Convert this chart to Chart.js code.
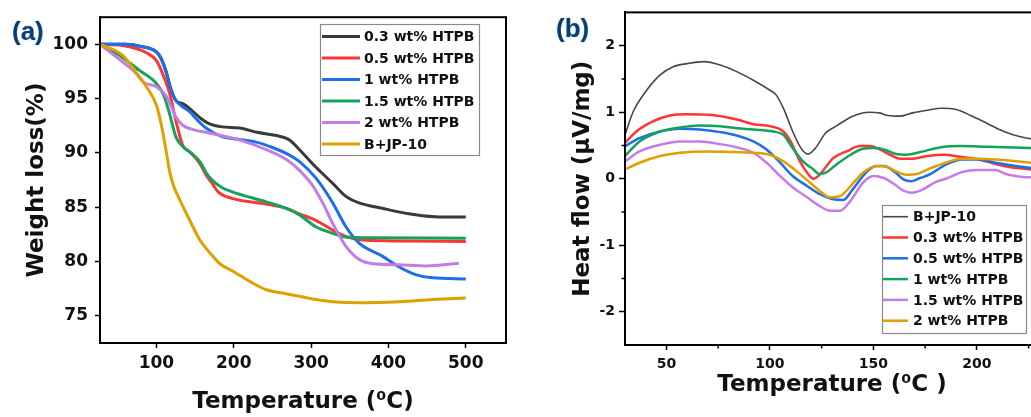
<!DOCTYPE html>
<html>
<head>
<meta charset="utf-8">
<title>TGA and DSC of B+JP-10 with HTPB</title>
<script src="https://cdn.jsdelivr.net/npm/chart.js@4.4.1/dist/chart.umd.min.js"></script>
<style>
  html, body { margin: 0; padding: 0; background: #fff; }
  body { position: relative; width: 1031px; height: 417px; overflow: hidden; }
  #tga { position: absolute; left: 0; top: 0; }
  #dsc { position: absolute; left: 520px; top: 0; }
  .panel-tag {
    position: absolute;
    font: bold 26px "Liberation Sans", Arial, sans-serif;
    color: #0c3d6d;
    text-shadow: 0 0 2px rgba(60, 170, 230, 0.6);
  }
</style>
</head>
<body>
<canvas id="tga" width="520" height="417"></canvas>
<canvas id="dsc" width="540" height="417"></canvas>
<div class="panel-tag" style="left:12px;top:16px">(a)</div>
<div class="panel-tag" style="left:556px;top:13px">(b)</div>

<script>
// ---------- (a) TGA : [temperature °C, weight %] ----------
const tga03 = [[27,100],[60,100],[80,99.8],[100,99.3],[106,98.7],[112,97.6],[119,95.8],[125,94.85],[135,94.5],[146,93.9],[157,93.2],[168,92.7],[185,92.4],[207,92.3],[230,91.9],[255,91.6],[272,91.2],[285,90.3],[306,88.7],[328,87.2],[345,86.0],[362,85.4],[392,84.9],[435,84.3],[466,84.1],[500,84.1]];
const tga05 = [[27,100],[56,99.9],[88,99.2],[100,98.5],[108,97.3],[117,95.5],[125,93.0],[134,90.7],[143,90.1],[151,89.5],[158,88.8],[164,88.0],[172,87.2],[180,86.4],[199,85.8],[242,85.3],[268,84.9],[285,84.4],[306,83.8],[328,82.9],[345,82.3],[371,81.95],[414,81.9],[500,81.85]];
const tga1 = [[27,100],[60,100],[80,99.8],[100,99.3],[106,98.7],[112,97.6],[119,95.8],[125,94.85],[133,94.3],[143,93.8],[152,93.1],[164,92.3],[185,91.5],[200,91.3],[229,91.0],[250,90.5],[272,89.8],[285,89.2],[306,87.7],[328,85.4],[345,83.2],[362,81.7],[392,80.5],[414,79.5],[435,78.8],[457,78.5],[500,78.4]];
const tga15 = [[27,100],[56,98.8],[78,97.6],[100,96.4],[110,95.2],[117,93.6],[125,91.5],[134,90.6],[143,90.1],[151,89.6],[158,89.0],[164,88.2],[172,87.5],[185,86.8],[199,86.4],[242,85.5],[268,84.9],[285,84.3],[306,83.2],[328,82.6],[345,82.25],[371,82.2],[500,82.15]];
const tga2 = [[27,100],[56,98.4],[70,97.6],[84,96.5],[100,96.1],[112,95.3],[119,94.3],[125,93.3],[134,92.55],[150,92.1],[164,91.9],[207,91.2],[242,90.3],[268,89.4],[285,88.4],[302,87.0],[315,85.4],[328,83.5],[345,81.4],[362,80.2],[380,79.8],[414,79.7],[449,79.6],[491,79.85]];
const tgaBase = [[27,100],[56,99.0],[78,97.0],[87,96.1],[100,94.4],[106,92.7],[110,91.2],[113,90.0],[117,88.3],[122,87.0],[130,85.7],[143,83.8],[156,82.0],[169,80.8],[182,79.8],[199,79.1],[220,78.2],[242,77.4],[263,77.1],[285,76.8],[306,76.5],[328,76.3],[362,76.2],[414,76.3],[457,76.5],[500,76.65]];

const tgaLabels = ['0.3 wt% HTPB', '0.5 wt% HTPB', '1 wt% HTPB', '1.5 wt% HTPB', '2 wt% HTPB', 'B+JP-10'];
const tgaXTicks = [100, 200, 300, 400, 500];
const tgaYTicks = [75, 80, 85, 90, 95, 100];

// ---------- (b) DSC : [temperature °C, heat flow µV/mg] ----------
const dscBase = [[30,0.66],[34,1.01],[40,1.31],[47,1.56],[53,1.68],[60,1.73],[68,1.76],[76,1.71],[84,1.61],[92,1.48],[100,1.33],[103,1.26],[106.5,1.06],[111,0.71],[115,0.46],[118.5,0.37],[122,0.46],[127,0.69],[132,0.79],[140,0.94],[148,1.0],[153,0.99],[157,0.95],[163,0.94],[169,0.99],[176,1.03],[183,1.06],[190,1.04],[197,0.95],[205,0.83],[213,0.71],[221,0.63],[226,0.60],[230,0.57]];
const dsc03 = [[30,0.54],[35.5,0.71],[43.5,0.86],[51.6,0.95],[60,0.97],[71,0.96],[84,0.89],[92,0.82],[100,0.79],[106.5,0.71],[110,0.56],[114.5,0.26],[118,0.09],[121,0.0],[124,0.06],[130.6,0.31],[137,0.41],[143.5,0.49],[148.4,0.49],[153,0.44],[158,0.36],[163,0.30],[169,0.30],[176,0.34],[184,0.36],[192,0.33],[201,0.29],[209,0.22],[217,0.17],[226,0.14],[230,0.12]];
const dsc05 = [[30,0.49],[37,0.61],[47,0.71],[56.5,0.75],[66,0.74],[76,0.70],[84,0.65],[92,0.56],[98.4,0.44],[105,0.24],[111,0.04],[118,-0.11],[124,-0.23],[130.6,-0.31],[135.5,-0.32],[140,-0.16],[147,0.11],[151.6,0.19],[155,0.19],[160,0.11],[164.5,-0.01],[168,-0.04],[172.6,0.01],[177,0.06],[185,0.21],[193,0.29],[201,0.29],[209,0.24],[217,0.20],[226,0.16],[230,0.14]];
const dsc1 = [[30,0.34],[37,0.56],[47,0.71],[56.5,0.77],[66,0.80],[76,0.79],[84,0.76],[92,0.74],[101.6,0.71],[106.5,0.66],[111,0.46],[116,0.26],[121,0.14],[124,0.07],[127,0.09],[132,0.21],[139,0.36],[145,0.45],[150,0.46],[155,0.44],[161,0.37],[166,0.36],[172.6,0.40],[182,0.47],[192,0.49],[205,0.48],[218,0.47],[226,0.46],[230,0.45]];
const dsc15 = [[30,0.26],[37,0.41],[47,0.51],[56.5,0.56],[66,0.56],[76,0.52],[85.5,0.46],[92,0.39],[98.4,0.24],[105,0.04],[111,-0.13],[118,-0.28],[124,-0.41],[129,-0.48],[134,-0.48],[139,-0.33],[145,-0.06],[150,0.04],[155,0.01],[160,-0.08],[164.5,-0.18],[168.5,-0.21],[174,-0.16],[180,-0.05],[185,0.0],[193,0.10],[200,0.13],[209,0.13],[214,0.07],[221,0.03],[226,0.02],[230,0.01]];
const dsc2 = [[30,0.14],[37,0.24],[47,0.34],[56.5,0.39],[69,0.41],[82,0.40],[92,0.39],[100,0.36],[106.5,0.26],[113,0.11],[119.4,-0.06],[124,-0.18],[129,-0.28],[134,-0.26],[139,-0.11],[145,0.09],[151.6,0.19],[156.5,0.18],[161,0.11],[166,0.06],[171,0.07],[177,0.15],[185,0.24],[193,0.30],[201,0.30],[209,0.29],[217,0.27],[226,0.24],[230,0.23]];

const dscLabels = ['B+JP-10', '0.3 wt% HTPB', '0.5 wt% HTPB', '1 wt% HTPB', '1.5 wt% HTPB', '2 wt% HTPB'];
const dscXTicks = [50, 100, 150, 200];
const dscYTicks = [-2, -1, 0, 1, 2];
const dscXMinor = [75, 125, 175, 225];
const dscYMinor = [-1.5, -0.5, 0.5, 1.5];

// colours
const cBlack = '#3a3a3a', cRed = '#ff3535', cBlue = '#1c6fe6', cGreen = '#14a35c', cPurple = '#c57ce8', cOrange = '#e0a000';

Chart.defaults.font.family = '"DejaVu Sans", "Liberation Sans", sans-serif';
Chart.defaults.font.weight = 'bold';
Chart.defaults.color = '#111';

// box round the plot area
const frameBox = {
  id: 'frameBox',
  afterDatasetsDraw(chart) {
    const { ctx, chartArea: a } = chart;
    ctx.save();
    ctx.strokeStyle = '#000';
    ctx.lineWidth = 2;
    ctx.strokeRect(a.left, a.top, a.right - a.left, a.bottom - a.top);
    ctx.restore();
  }
};

// short unlabeled ticks
const minorTicks = {
  id: 'minorTicks',
  afterDraw(chart, args, o) {
    if (!o.x) return;
    const { ctx, chartArea: a, scales } = chart;
    ctx.save();
    ctx.strokeStyle = '#000';
    ctx.lineWidth = 1.5;
    ctx.beginPath();
    o.x.forEach(v => {
      const px = scales.x.getPixelForValue(v);
      ctx.moveTo(px, a.bottom);
      ctx.lineTo(px, a.bottom + o.len);
    });
    o.y.forEach(v => {
      const py = scales.y.getPixelForValue(v);
      ctx.moveTo(a.left, py);
      ctx.lineTo(a.left - o.len, py);
    });
    ctx.stroke();
    ctx.restore();
  }
};

// legend drawn inside the plot, boxed
const boxLegend = {
  id: 'boxLegend',
  afterDraw(chart, args, o) {
    const ctx = chart.ctx;
    ctx.save();
    ctx.fillStyle = '#fff';
    ctx.fillRect(o.left, o.top, o.width, o.height);
    ctx.strokeStyle = '#8a8a8a';
    ctx.lineWidth = 1.2;
    ctx.strokeRect(o.left + 0.5, o.top + 0.5, o.width, o.height);
    ctx.font = 'bold ' + o.fontSize + 'px "DejaVu Sans", sans-serif';
    ctx.textBaseline = 'middle';
    chart.data.datasets.forEach((ds, i) => {
      const y = o.rowTop + i * o.rowStep;
      ctx.strokeStyle = ds.borderColor;
      ctx.lineWidth = ds.borderWidth;
      ctx.beginPath();
      ctx.moveTo(o.lineX0, y);
      ctx.lineTo(o.lineX1, y);
      ctx.stroke();
      ctx.fillStyle = '#111';
      ctx.fillText(ds.label, o.textX, y + 1);
    });
    ctx.restore();
  }
};

function pts(arr) { return arr.map(([x, y]) => ({ x, y })); }

function line(label, arr, color, width, i) {
  return {
    label, data: pts(arr), borderColor: color, backgroundColor: color,
    borderWidth: width, pointRadius: 0, cubicInterpolationMode: 'monotone', order: -i
  };
}

function axis(opts) {
  return {
    type: 'linear', min: opts.min, max: opts.max,
    afterBuildTicks: s => { s.ticks = opts.ticks.map(v => ({ value: v })); },
    afterFit: opts.fit,
    grid: { drawOnChartArea: false, tickLength: opts.tickLength, tickWidth: 1.5, tickColor: '#000' },
    border: { color: '#000', width: 2 },
    ticks: { color: '#111', font: { size: opts.tickSize, weight: 'bold' }, padding: opts.tickPad, maxRotation: 0 },
    title: { display: true, text: opts.title, color: '#111', font: { size: 23, weight: 'bold' }, padding: opts.titlePad }
  };
}

new Chart(document.getElementById('tga'), {
  type: 'line',
  data: {
    datasets: [
      line(tgaLabels[0], tga03, cBlack, 3, 0),
      line(tgaLabels[1], tga05, cRed, 3, 1),
      line(tgaLabels[2], tga1, cBlue, 3, 2),
      line(tgaLabels[3], tga15, cGreen, 3, 3),
      line(tgaLabels[4], tga2, cPurple, 3, 4),
      line(tgaLabels[5], tgaBase, cOrange, 3, 5)
    ]
  },
  options: {
    responsive: false,
    animation: false,
    layout: { padding: { left: 0, right: 14, top: 16, bottom: 0 } },
    scales: {
      x: axis({ min: 27, max: 552, ticks: tgaXTicks, fit: s => { s.height = 74; }, tickLength: 5, tickSize: 17, tickPad: 5,
                title: 'Temperature (⁰C)', titlePad: { top: 0, bottom: 1 } }),
      y: axis({ min: 72.5, max: 102.5, ticks: tgaYTicks, fit: s => { s.width = 100; }, tickLength: 5, tickSize: 17, tickPad: 7,
                title: 'Weight loss(%)', titlePad: { top: 23, bottom: 0 } })
    },
    plugins: {
      legend: { display: false },
      tooltip: { enabled: false },
      boxLegend: { left: 320, top: 24, width: 159, height: 131, rowTop: 36.5, rowStep: 21.5, lineX0: 322, lineX1: 360, textX: 364, fontSize: 14 }
    }
  },
  plugins: [frameBox, boxLegend]
});

new Chart(document.getElementById('dsc'), {
  type: 'line',
  data: {
    datasets: [
      line(dscLabels[0], dscBase, '#474747', 1.6, 0),
      line(dscLabels[1], dsc03, cRed, 2.5, 1),
      line(dscLabels[2], dsc05, cBlue, 2.5, 2),
      line(dscLabels[3], dsc1, cGreen, 2.5, 3),
      line(dscLabels[4], dsc15, cPurple, 2.5, 4),
      line(dscLabels[5], dsc2, cOrange, 2.5, 5)
    ]
  },
  options: {
    responsive: false,
    animation: false,
    layout: { padding: { left: 0, right: 21, top: 10, bottom: 0 } },
    scales: {
      x: axis({ min: 30, max: 230, ticks: dscXTicks, fit: s => { s.height = 72; }, tickLength: 5, tickSize: 14, tickPad: 6,
                title: 'Temperature (⁰C )', titlePad: { top: 0, bottom: 18 } }),
      y: axis({ min: -2.5, max: 2.5, ticks: dscYTicks, fit: s => { s.width = 105; }, tickLength: 6, tickSize: 14, tickPad: 4,
                title: 'Heat flow (μV/mg)', titlePad: { top: 49, bottom: 0 } })
    },
    plugins: {
      legend: { display: false },
      tooltip: { enabled: false },
      boxLegend: { left: 362, top: 205, width: 144, height: 128, rowTop: 216.7, rowStep: 20.8, lineX0: 363, lineX1: 388, textX: 393, fontSize: 14 },
      minorTicks: { x: dscXMinor, y: dscYMinor, len: 3.5 }
    }
  },
  plugins: [frameBox, minorTicks, boxLegend]
});
</script>
</body>
</html>
